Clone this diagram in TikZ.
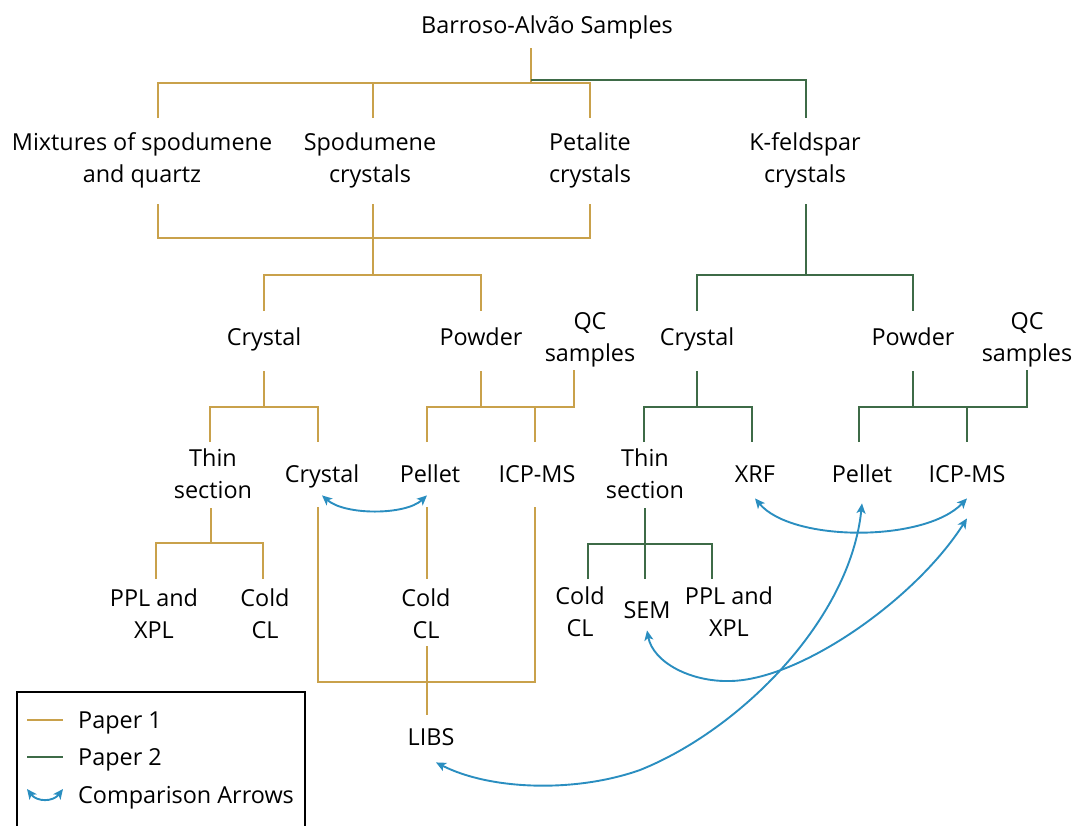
\documentclass[tikz,border=0pt]{standalone}
\usepackage{fontspec}
\setmainfont{Open Sans}
\usetikzlibrary{arrows.meta}
\definecolor{gold}{HTML}{C9A14B}
\definecolor{grn}{HTML}{3E6B47}
\definecolor{blu}{HTML}{2A8EC0}
\newcommand\Tp[1]{\rule{0pt}{#1pt}}
\newcommand\Dp[1]{\rule[-#1pt]{0pt}{#1pt}}
\begin{document}
\begin{tikzpicture}[x=1pt,y=-1pt,
  lbl/.style={font=\fontsize{23.4}{32}\selectfont, align=center, inner sep=0pt, anchor=north},
  leg/.style={font=\fontsize{23.4}{32}\selectfont, inner sep=0pt, anchor=base west},
  p1/.style={draw=gold, line width=1.9pt},
  p2/.style={draw=grn, line width=1.9pt},
  cmp/.style={draw=blu, line width=1.9pt, {Stealth[length=10pt,width=9pt,inset=2.5pt]}-{Stealth[length=10pt,width=9pt,inset=2.5pt]}}]
\useasboundingbox (0,0) rectangle (1075,825);

% ---------- nodes ----------
\node[lbl, anchor=base] (root) at (547,33) {Barroso-Alvão Samples\Dp{15}};

\node[lbl] (mix) at (142,118) {\Tp{32}Mixtures of spodumene\\and quartz\Dp{22}};
\node[lbl] (spo) at (370,118) {\Tp{32}Spodumene\\crystals\Dp{22}};
\node[lbl] (pet) at (590,118) {\Tp{32}Petalite\\crystals\Dp{22}};
\node[lbl] (kfs) at (805,118) {\Tp{32}K-feldspar\\crystals\Dp{22}};

\node[lbl] (cryA) at (264,311) {\Tp{34}Crystal\Dp{26}};
\node[lbl] (powA) at (481,311) {\Tp{34}Powder\Dp{26}};
\node[lbl] (qcA)  at (590,309) {\Tp{20}QC\\samples\Dp{9}};
\node[lbl] (cryB) at (697,311) {\Tp{34}Crystal\Dp{26}};
\node[lbl] (powB) at (913,311) {\Tp{34}Powder\Dp{26}};
\node[lbl] (qcB)  at (1027,309) {\Tp{20}QC\\samples\Dp{9}};

\node[lbl] (thinA) at (213,442) {\Tp{24}Thin\\section\Dp{10}};
\node[lbl] (cry4)  at (322,442) {\Tp{40}Crystal\Dp{25}};
\node[lbl] (pelA)  at (430,442) {\Tp{40}Pellet\Dp{25}};
\node[lbl] (icpA)  at (537,442) {\Tp{40}ICP-MS\Dp{25}};
\node[lbl] (thinB) at (645,442) {\Tp{24}Thin\\section\Dp{10}};
\node[lbl] (xrf)   at (755,442) {\Tp{40}XRF\Dp{16}};
\node[lbl] (pelB)  at (862,442) {\Tp{40}Pellet\Dp{21}};
\node[lbl] (icpB)  at (967,442) {\Tp{40}ICP-MS\Dp{16}};

\node[lbl] (pplA)  at (154,579) {\Tp{27}PPL and\\XPL};
\node[lbl] (coldA) at (265,579) {\Tp{27}Cold\\CL};
\node[lbl] (coldP) at (426,579) {\Tp{27}Cold\\CL\Dp{8}};
\node[lbl] (coldB) at (580,579) {\Tp{25}Cold\\CL};
\node[lbl] (sem)   at (647,579) {\Tp{39}SEM\Dp{12}};
\node[lbl] (pplB)  at (729,579) {\Tp{25}PPL and\\XPL};

\node[lbl] (libs)  at (431,715) {\Tp{30}LIBS\Dp{17}};

% ---------- junction coordinates ----------
\coordinate (j0) at (531,83);
\coordinate (g1a) at (158,83);
\coordinate (g1b) at (373,83);
\coordinate (g1c) at (590,83);
\coordinate (k0) at (531,80);
\coordinate (k1) at (806,80);

\coordinate (g2a) at (158,238);
\coordinate (g2b) at (373,238);
\coordinate (g2c) at (590,238);
\coordinate (g3) at (373,275);
\coordinate (g3a) at (264,275);
\coordinate (g3b) at (481,275);
\coordinate (k2) at (806,275);
\coordinate (k2a) at (697,275);
\coordinate (k2b) at (913,275);

\coordinate (ga) at (210,407);
\coordinate (gb) at (318,407);
\coordinate (gc) at (264,407);
\coordinate (gd) at (427,407);
\coordinate (ge) at (574,407);
\coordinate (gf) at (481,407);
\coordinate (gg) at (535,407);
\coordinate (ka) at (644,407);
\coordinate (kb) at (752,407);
\coordinate (kc) at (697,407);
\coordinate (kd) at (859,407);
\coordinate (ke) at (1027,407);
\coordinate (kf) at (913,407);
\coordinate (kg) at (967,407);

\coordinate (gh) at (211,543);
\coordinate (gi) at (156,543);
\coordinate (gj) at (263,543);
\coordinate (kh) at (645,544);
\coordinate (ki) at (588,544);
\coordinate (kj) at (712,544);

\coordinate (gk) at (318,682);
\coordinate (gl) at (535,682);

% ---------- Paper 1 (gold) ----------
\draw[p1] (root.south -| j0) -- (j0);
\draw[p1] (mix.north -| g1a) -- (g1a) -- (g1c) -- (pet.north -| g1c);
\draw[p1] (spo.north -| g1b) -- (g1b);
\draw[p1] (mix.south -| g2a) -- (g2a) -- (g2c) -- (pet.south -| g2c);
\draw[p1] (spo.south -| g2b) -- (g3);
\draw[p1] (cryA.north -| g3a) -- (g3a) -- (g3b) -- (powA.north -| g3b);
\draw[p1] (cryA.south -| gc) -- (gc);
\draw[p1] (thinA.north -| ga) -- (ga) -- (gb) -- (cry4.north -| gb);
\draw[p1] (powA.south -| gf) -- (gf);
\draw[p1] (pelA.north -| gd) -- (gd) -- (ge) -- (qcA.south -| ge);
\draw[p1] (gg) -- (icpA.north -| gg);
\draw[p1] (thinA.south -| gh) -- (gh);
\draw[p1] (pplA.north -| gi) -- (gi) -- (gj) -- (coldA.north -| gj);
\draw[p1] (pelA.south -| gd) -- (coldP.north -| gd);
\draw[p1] (cry4.south -| gk) -- (gk) -- (gl) -- (icpA.south -| gl);
\draw[p1] (coldP.south -| gd) -- (libs.north -| gd);

% ---------- Paper 2 (green) ----------
\draw[p2] (k0) -- (k1) -- (kfs.north -| k1);
\draw[p2] (kfs.south -| k2) -- (k2);
\draw[p2] (cryB.north -| k2a) -- (k2a) -- (k2b) -- (powB.north -| k2b);
\draw[p2] (cryB.south -| kc) -- (kc);
\draw[p2] (thinB.north -| ka) -- (ka) -- (kb) -- (xrf.north -| kb);
\draw[p2] (powB.south -| kf) -- (kf);
\draw[p2] (pelB.north -| kd) -- (kd) -- (ke) -- (qcB.south -| ke);
\draw[p2] (kg) -- (icpB.north -| kg);
\draw[p2] (thinB.south -| kh) -- (sem.north -| kh);
\draw[p2] (coldB.north -| ki) -- (ki) -- (kj) -- (pplB.north -| kj);

% ---------- comparison arrows ----------
\draw[cmp] ([yshift=12pt]cry4.south) .. controls +(23,20) and +(-22,20) .. ([yshift=12pt,xshift=-3pt]pelA.south);
\draw[cmp] (xrf.south) .. controls +(37,44) and +(-42,44) .. (icpB.south);
\draw[cmp] (pelB.south) .. controls (850,620) and (740,730) .. (640,770)
           .. controls (575,793) and (490,790) .. ([xshift=5pt]libs.south);
\draw[cmp] (sem.south) .. controls (653,662) and (690,682) .. (730,681)
           .. controls (800,680) and (915,600) .. ([yshift=-20pt]icpB.south);

% ---------- legend ----------
\coordinate (bx1) at (17,830);
\coordinate (bx2) at (17,692);
\coordinate (bx3) at (305,692);
\coordinate (bx4) at (305,830);
\draw[line width=1.2pt] (bx1) -- (bx2) -- (bx3) -- (bx4);
\coordinate (L1a) at (27,720); \coordinate (L1b) at (63,720);
\coordinate (L2a) at (27,757); \coordinate (L2b) at (63,757);
\coordinate (L3a) at (27,789); \coordinate (L3b) at (63,789);
\draw[p1] (L1a) -- (L1b);
\draw[p2] (L2a) -- (L2b);
\draw[cmp] (L3a) .. controls +(10,13) and +(-10,13) .. (L3b);
\node[leg] (leg1) at (78,728) {Paper 1};
\node[leg] (leg2) at (78,765) {Paper 2};
\node[leg] (leg3) at (78,803) {Comparison Arrows};
\end{tikzpicture}
\end{document}
